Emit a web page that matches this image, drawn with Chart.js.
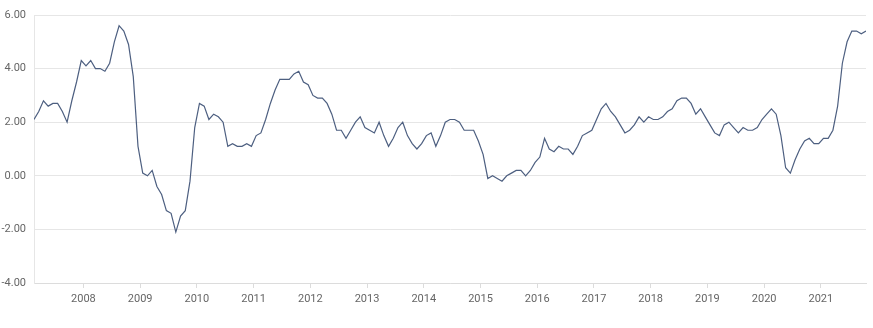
<!DOCTYPE html>
<html><head><meta charset="utf-8">
<script src="https://cdn.jsdelivr.net/npm/chart.js@4.4.1/dist/chart.umd.min.js"></script>
<style>html,body{margin:0;padding:0;background:#fff}#wrap{width:873px;height:328px;position:relative}</style>
</head><body><div id="wrap"><canvas id="c" width="873" height="328"></canvas></div>
<script>
// Monthly series, first point = January 2007
const startYear = 2007;
const tickYears = [2008, 2009, 2010, 2011, 2012, 2013, 2014, 2015, 2016, 2017, 2018, 2019, 2020, 2021];
const yTickValues = [-4, -2, 0, 2, 4, 6];
const values = [
  2.1, 2.4, 2.8, 2.6, 2.7, 2.7, 2.4, 2.0, 2.8, 3.5, 4.3, 4.1,
  4.3, 4.0, 4.0, 3.9, 4.2, 5.0, 5.6, 5.4, 4.9, 3.7, 1.1, 0.1,
  0.0, 0.2, -0.4, -0.7, -1.3, -1.4, -2.1, -1.5, -1.3, -0.2, 1.8, 2.7,
  2.6, 2.1, 2.3, 2.2, 2.0, 1.1, 1.2, 1.1, 1.1, 1.2, 1.1, 1.5,
  1.6, 2.1, 2.7, 3.2, 3.6, 3.6, 3.6, 3.8, 3.9, 3.5, 3.4, 3.0,
  2.9, 2.9, 2.7, 2.3, 1.7, 1.7, 1.4, 1.7, 2.0, 2.2, 1.8, 1.7,
  1.6, 2.0, 1.5, 1.1, 1.4, 1.8, 2.0, 1.5, 1.2, 1.0, 1.2, 1.5,
  1.6, 1.1, 1.5, 2.0, 2.1, 2.1, 2.0, 1.7, 1.7, 1.7, 1.3, 0.8,
  -0.1, 0.0, -0.1, -0.2, 0.0, 0.1, 0.2, 0.2, 0.0, 0.2, 0.5, 0.7,
  1.4, 1.0, 0.9, 1.1, 1.0, 1.0, 0.8, 1.1, 1.5, 1.6, 1.7, 2.1,
  2.5, 2.7, 2.4, 2.2, 1.9, 1.6, 1.7, 1.9, 2.2, 2.0, 2.2, 2.1,
  2.1, 2.2, 2.4, 2.5, 2.8, 2.9, 2.9, 2.7, 2.3, 2.5, 2.2, 1.9,
  1.6, 1.5, 1.9, 2.0, 1.8, 1.6, 1.8, 1.7, 1.7, 1.8, 2.1, 2.3,
  2.5, 2.3, 1.5, 0.3, 0.1, 0.6, 1.0, 1.3, 1.4, 1.2, 1.2, 1.4,
  1.4, 1.7, 2.6, 4.2, 5.0, 5.4, 5.4, 5.3, 5.4
];

const points = values.map((v, i) => ({ x: i, y: v }));
const tickOffset = -1.55; // year ticks sit slightly before January in the reference

new Chart(document.getElementById('c').getContext('2d'), {
  type: 'line',
  data: { datasets: [{
    data: points,
    borderColor: '#4d5f80',
    borderWidth: 1.2,
    pointRadius: 0,
    fill: false,
    tension: 0
  }]},
  options: {
    responsive: false,
    animation: false,
    events: [],
    plugins: { legend: { display: false }, tooltip: { enabled: false } },
    layout: { padding: { top: 15, right: 7, left: 0, bottom: 0 } },
    scales: {
      x: {
        type: 'linear',
        min: 0,
        max: values.length - 1,
        afterBuildTicks: s => { s.ticks = tickYears.map(y => ({ value: (y - startYear) * 12 + tickOffset })); },
        afterFit: s => { s.height = 45; },
        ticks: {
          autoSkip: false, maxRotation: 0, padding: 5,
          color: '#666', font: { family: 'Roboto', size: 11 },
          callback: (v, i) => String(tickYears[i])
        },
        grid: { drawOnChartArea: false, drawTicks: true, tickLength: 5, color: '#dcdcdc' },
        border: { display: true, color: '#dcdcdc' }
      },
      y: {
        min: -4, max: 6,
        afterBuildTicks: s => { s.ticks = yTickValues.map(v => ({ value: v })); },
        afterFit: s => { s.width = 34; },
        ticks: {
          padding: 8, color: '#666', font: { family: 'Roboto', size: 11 },
          callback: v => Number(v).toFixed(2)
        },
        grid: { drawTicks: false, color: '#e6e6e6' },
        border: { display: true, color: '#e6e6e6' }
      }
    }
  }
});
</script></body></html>
